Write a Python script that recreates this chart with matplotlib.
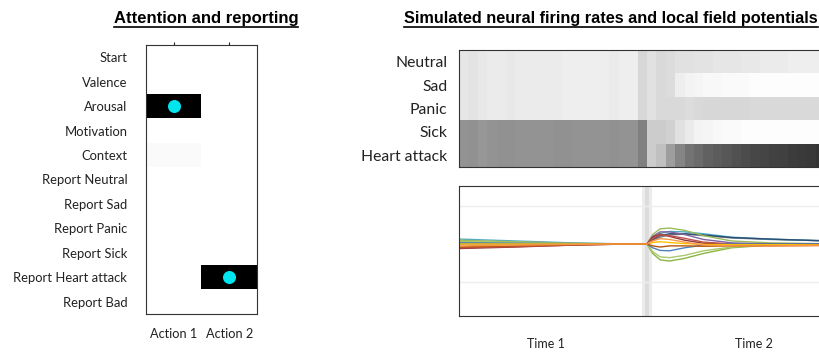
import numpy as np
import matplotlib.pyplot as plt
from matplotlib.lines import Line2D

# ---- data ----
states = ["Start", "Valence", "Arousal", "Motivation", "Context", "Report Neutral",
          "Report Sad", "Report Panic", "Report Sick", "Report Heart attack", "Report Bad"]
actions = ["Action 1", "Action 2"]
attention = [[0, 0], [0, 0], [1, 0], [0, 0], [0.02, 0], [0, 0],
             [0, 0], [0, 0], [0, 0], [0, 1], [0, 0]]
chosen = [(2, 0), (9, 1)]  # (state row, action column)

emotions = ["Neutral", "Sad", "Panic", "Sick", "Heart attack"]
# firing rates (grey level), 20 bins per epoch
rate_neutral = [0.90, 0.89, 0.91, 0.92, 0.92, 0.91, 0.92, 0.92, 0.92, 0.92,
                0.92, 0.93, 0.93, 0.93, 0.93, 0.93, 0.92, 0.93, 0.93, 0.84,
                0.88, 0.85, 0.86, 0.88, 0.88, 0.89, 0.89, 0.90, 0.90, 0.90,
                0.91, 0.91, 0.92, 0.92, 0.92, 0.93, 0.93, 0.93, 0.93, 0.93]
rate_sad = [0.90, 0.89, 0.91, 0.92, 0.92, 0.91, 0.92, 0.92, 0.92, 0.92,
            0.92, 0.93, 0.93, 0.93, 0.93, 0.93, 0.92, 0.93, 0.93, 0.84,
            0.88, 0.85, 0.86, 0.93, 0.95, 0.96, 0.97, 0.97, 0.98, 0.98,
            0.98, 0.99, 0.99, 0.99, 0.99, 0.99, 0.99, 0.99, 0.99, 0.99]
rate_panic = [0.90, 0.89, 0.91, 0.92, 0.92, 0.91, 0.92, 0.92, 0.92, 0.92,
              0.92, 0.93, 0.93, 0.93, 0.93, 0.93, 0.92, 0.93, 0.93, 0.84,
              0.88, 0.85, 0.85, 0.85, 0.86, 0.85, 0.84, 0.84, 0.84, 0.84,
              0.84, 0.85, 0.85, 0.85, 0.85, 0.85, 0.85, 0.85, 0.85, 0.85]
rate_sick = [0.58, 0.57, 0.59, 0.58, 0.57, 0.57, 0.58, 0.58, 0.58, 0.58,
             0.57, 0.57, 0.58, 0.58, 0.58, 0.58, 0.57, 0.58, 0.58, 0.50,
             0.80, 0.80, 0.82, 0.88, 0.92, 0.95, 0.96, 0.97, 0.98, 0.98,
             0.99, 0.99, 0.99, 0.99, 0.99, 0.99, 0.99, 0.99, 0.99, 0.99]
rate_heart = [0.58, 0.57, 0.59, 0.58, 0.57, 0.57, 0.58, 0.58, 0.58, 0.58,
              0.57, 0.57, 0.58, 0.58, 0.58, 0.58, 0.57, 0.58, 0.58, 0.50,
              0.80, 0.75, 0.62, 0.52, 0.45, 0.42, 0.38, 0.36, 0.34, 0.32,
              0.30, 0.28, 0.27, 0.26, 0.25, 0.24, 0.23, 0.22, 0.21, 0.20]

# local field potentials
lfp_t = [0.0, 0.3, 0.6, 0.9, 1.0, 1.03, 1.07, 1.12, 1.2, 1.3, 1.45, 1.65, 1.9, 2.05]
lfp_aqua = [0.13, 0.08, 0.03, 0.0, 0.0, 0.15, 0.28, 0.33, 0.32, 0.27, 0.18, 0.13, 0.09, 0.08]
lfp_navy = [0.05, 0.03, 0.01, 0, 0, 0.12, 0.22, 0.27, 0.27, 0.24, 0.17, 0.13, 0.09, 0.08]
lfp_gray = [0.02, 0.01, 0, 0, 0, 0.10, 0.18, 0.24, 0.26, 0.22, 0.16, 0.12, 0.09, 0.08]
lfp_green1 = [0.10, 0.06, 0.02, 0, 0, 0.25, 0.40, 0.42, 0.36, 0.22, 0.08, 0.03, 0.01, 0.01]
lfp_green2 = [0.02, 0.01, 0, 0, 0, -0.25, -0.42, -0.45, -0.38, -0.25, -0.10, -0.03, 0, 0]
lfp_green3 = [0.06, 0.04, 0.01, 0, 0, -0.20, -0.34, -0.36, -0.30, -0.18, -0.08, -0.02, 0, 0]
lfp_purple = [0.0, 0, 0, 0, 0, 0.20, 0.32, 0.32, 0.25, 0.12, 0.03, 0, 0, 0]
lfp_red = [-0.10, -0.07, -0.03, 0, 0, 0.14, 0.24, 0.22, 0.15, 0.05, 0, -0.02, -0.02, -0.02]
lfp_maroon = [-0.12, -0.08, -0.03, 0, 0, 0.18, 0.26, 0.20, 0.10, 0.02, 0, 0, 0, 0]
lfp_orange = [-0.05, -0.03, -0.01, 0, 0, 0.08, 0.14, 0.12, 0.05, -0.03, -0.05, -0.05, -0.04, -0.04]
lfp_dorange = [-0.08, -0.05, -0.02, 0, 0, -0.05, -0.08, -0.05, -0.05, -0.06, -0.05, -0.05, -0.04, -0.04]
lfp_blue = [0.03, 0.02, 0.01, 0, 0, -0.10, -0.17, -0.18, -0.10, -0.03, 0, 0, 0, 0]
lfp_yellow = [0, 0, 0, 0, 0, 0.04, 0.06, 0.04, 0.01, -0.01, -0.02, -0.02, -0.02, -0.02]

times = ["Time 1", "Time 2"]
time_pos = [0.46, 1.57]

W, H = 819, 352
fig = plt.figure(figsize=(W / 100, H / 100), dpi=100)
lab_font = ['Lato', 'DejaVu Sans']
title_font = ['Liberation Sans Narrow', 'Liberation Sans', 'DejaVu Sans']


def box(l, t, w, h):
    return [l / W, 1 - (t + h) / H, w / W, h / H]


# ---- left panel ----
ax1 = fig.add_axes(box(146, 45, 111, 269))
ax1.imshow(np.array(attention), cmap='gray_r', vmin=0, vmax=1, aspect='auto',
           interpolation='nearest')
ax1.scatter([c for r, c in chosen], [r for r, c in chosen], s=70, color='#00E5EE', zorder=3)
ax1.set_yticks(range(len(states)))
ax1.set_yticklabels(states, fontsize=9.4, family=lab_font)
ax1.set_xticks(range(len(actions)))
ax1.set_xticklabels(actions, fontsize=9.2, family=lab_font)
ax1.tick_params(axis='y', length=0, pad=13.5, colors='#222222')
ax1.tick_params(axis='x', bottom=False, top=True, length=2, pad=8, colors='#222222',
                labelbottom=True, labeltop=False)
for s in ax1.spines.values():
    s.set_color('#333333')
    s.set_linewidth(0.8)

# ---- heatmap ----
rates = np.array([rate_neutral, rate_sad, rate_panic, rate_sick, rate_heart])
ax2 = fig.add_axes(box(459, 50, 376, 117))
ax2.imshow(rates, cmap='gray', vmin=0, vmax=1, aspect='auto', interpolation='nearest',
           extent=[0, 2, len(emotions) - 0.5, -0.5])
ax2.set_yticks(range(len(emotions)))
ax2.set_yticklabels(emotions, fontsize=11.3, family=lab_font)
ax2.tick_params(axis='y', length=0, pad=8.5, colors='#222222')
ax2.set_xticks([])
for s in ax2.spines.values():
    s.set_color('#333333')
    s.set_linewidth(0.8)

# ---- LFP lines ----
ax3 = fig.add_axes(box(459, 186, 376, 130))
ax3.axvspan(0.975, 1.025, color='#ececec', lw=0, zorder=0)
ax3.axvspan(0.99, 1.01, color='#dcdcdc', lw=0, zorder=0)
series = [(lfp_gray, '#7F7F7F'), (lfp_aqua, '#4BACC6'), (lfp_navy, '#2C4D75'),
          (lfp_green1, '#9BBB59'), (lfp_green2, '#8DB543'), (lfp_green3, '#A9C96A'),
          (lfp_purple, '#8064A2'), (lfp_maroon, '#943634'), (lfp_red, '#C0504D'),
          (lfp_blue, '#4F81BD'), (lfp_yellow, '#FFC000'), (lfp_dorange, '#B65708'),
          (lfp_orange, '#F79646')]
for ys, c in series:
    ax3.plot(lfp_t, ys, color=c, lw=1.0)
ax3.set_xlim(0, 2)
ax3.set_ylim(-1.9, 1.53)
ax3.set_yticks([-1, 1])
ax3.grid(axis='y', color='#eeeeee', lw=1)
ax3.set_axisbelow(True)
ax3.tick_params(axis='y', left=False, labelleft=False)
ax3.set_xticks(time_pos)
ax3.set_xticklabels(times, fontsize=9, family=lab_font)
ax3.tick_params(axis='x', length=0, pad=16, colors='#222222')
for s in ax3.spines.values():
    s.set_color('#333333')
    s.set_linewidth(0.8)

# ---- titles with underline ----
t1 = fig.text(206 / W, 1 - 18 / H, "Attention and reporting", ha='center', va='center',
              fontsize=12, fontweight='bold', family=title_font)
t2 = fig.text(611 / W, 1 - 18 / H, "Simulated neural firing rates and local field potentials",
              ha='center', va='center', fontsize=11.7, fontweight='bold', family=title_font)
fig.canvas.draw()
r = fig.canvas.get_renderer()
for t in (t1, t2):
    bb = t.get_window_extent(r)
    y = (bb.y0 - 1) / H
    fig.add_artist(Line2D([bb.x0 / W, bb.x1 / W], [y, y], color='black', lw=1.2))

fig.savefig('out.png', dpi=100)
